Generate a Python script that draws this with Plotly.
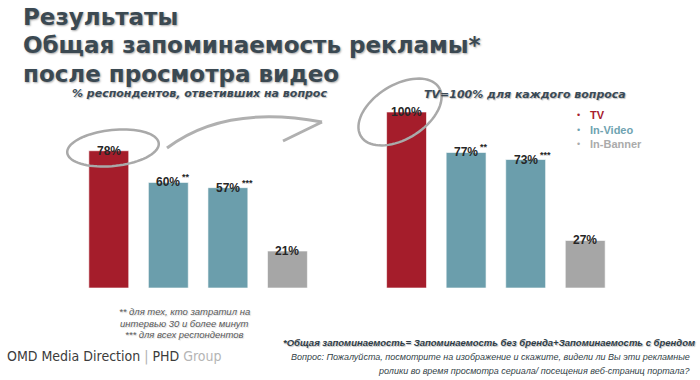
import numpy as np
import plotly.graph_objects as go

# ---------------- data ----------------
categories = ["TV", "In-Video", "In-Video", "In-Banner"]
left_values = [78, 60, 57, 21]      # % респондентов, ответивших на вопрос
right_values = [100, 77, 73, 27]    # TV = 100% для каждого вопроса
asterisks = ["", "**", "***", ""]
legend_items = ["TV", "In-Video", "In-Banner"]

bar_colors = {"TV": "#a51d2b", "In-Video": "#6b9eac", "In-Banner": "#a6a6a6"}
legend_colors = {"TV": "#a8202d", "In-Video": "#6fa3b1", "In-Banner": "#ababab"}

W, H = 700, 380
left_x = list(range(len(left_values)))
right_x = [i + len(left_values) + 1 for i in range(len(right_values))]


def px(x):
    return x / W


def py(y):
    return 1 - y / H


fig = go.Figure()
for xs, vals, nm in [(left_x, left_values, "all"), (right_x, right_values, "tv100")]:
    fig.add_trace(go.Bar(
        x=xs, y=vals, name=nm, width=0.67,
        marker=dict(color=[bar_colors[c] for c in categories],
                    line=dict(color="rgba(255,255,255,0.6)", width=1)),
        showlegend=False, hoverinfo="skip",
    ))

ann = []
label_font = dict(family="Liberation Sans, Arial, sans-serif", size=12, color="#262626")
for xs, vals in [(left_x, left_values), (right_x, right_values)]:
    for x, v, a in zip(xs, vals, asterisks):
        ann.append(dict(x=x, y=v, xref="x", yref="y", text=f"<b>{v}%</b>",
                        showarrow=False, xanchor="center", yanchor="middle",
                        font=label_font))
        if a:
            ann.append(dict(x=x, y=v, xref="x", yref="y", text=f"<b>{a}</b>",
                            showarrow=False, xanchor="left", yanchor="middle",
                            xshift=12, yshift=5,
                            font=dict(family="Liberation Sans, Arial", size=9, color="#262626")))

# titles
title_font = dict(family="DejaVu Sans", size=23, color="#3b4952",
                  shadow="1px 1px 2px rgba(0,0,0,0.35)")
for txt, yy in [("Результаты", 17), ("Общая запоминаемость рекламы*", 45), ("после просмотра видео", 74)]:
    ann.append(dict(x=px(21), y=py(yy), xref="paper", yref="paper", text=f"<b>{txt}</b>",
                    showarrow=False, xanchor="left", yanchor="middle", font=title_font))

sub_font = dict(family="DejaVu Sans", size=11, color="#3a4a56",
                shadow="1px 1px 1px rgba(0,0,0,0.25)")
ann.append(dict(x=px(199), y=py(93), xref="paper", yref="paper",
                text="<b><i>% респондентов, ответивших на вопрос</i></b>",
                showarrow=False, xanchor="center", yanchor="middle", font=sub_font))
ann.append(dict(x=px(525), y=py(94), xref="paper", yref="paper",
                text="<b><i>TV=100% для каждого вопроса</i></b>",
                showarrow=False, xanchor="center", yanchor="middle", font=sub_font))

# legend
for i, name in enumerate(legend_items):
    yy = 115 + i * 14.5
    ann.append(dict(x=px(575), y=py(yy), xref="paper", yref="paper", text="•",
                    showarrow=False, xanchor="left", yanchor="middle",
                    font=dict(family="Liberation Sans, Arial", size=9, color=legend_colors[name])))
    ann.append(dict(x=px(588), y=py(yy), xref="paper", yref="paper", text=f"<b>{name}</b>",
                    showarrow=False, xanchor="left", yanchor="middle",
                    font=dict(family="Liberation Sans, Arial", size=11, color=legend_colors[name])))

# footnotes
note_font = dict(family="Liberation Sans, Arial", size=9.5, color="#5a5a5a",
                 shadow="1px 1px 1px rgba(0,0,0,0.15)")
for txt, yy in [("** для тех, кто затратил на", 311), ("интервью 30 и более минут", 323),
                ("*** для всех респондентов", 334)]:
    ann.append(dict(x=px(184), y=py(yy), xref="paper", yref="paper", text=f"<i>{txt}</i>",
                    showarrow=False, xanchor="center", yanchor="middle", font=note_font))

ann.append(dict(x=px(697), y=py(342), xref="paper", yref="paper",
                text="<b><i>*Общая запоминаемость= Запоминаемость без бренда+Запоминаемость с брендом</i></b>",
                showarrow=False, xanchor="right", yanchor="middle",
                font=dict(family="Liberation Sans, Arial", size=9.5, color="#2f3d47",
                          shadow="1px 1px 1px rgba(0,0,0,0.25)")))
q_font = dict(family="Liberation Sans, Arial", size=9, color="#333f48")
ann.append(dict(x=px(692), y=py(357), xref="paper", yref="paper",
                text="<i>Вопрос: Пожалуйста, посмотрите на изображение и скажите, видели ли Вы эти рекламные</i>",
                showarrow=False, xanchor="right", yanchor="middle", font=q_font))
ann.append(dict(x=px(692), y=py(371), xref="paper", yref="paper",
                text="<i>ролики во время просмотра сериала/ посещения веб-страниц портала?</i>",
                showarrow=False, xanchor="right", yanchor="middle", font=q_font))

# logo
ann.append(dict(x=px(5), y=py(356), xref="paper", yref="paper",
                text="<span style='color:#3c3c3c'>OMD Media Direction</span>"
                     "<span style='color:#b0b0b0'> | </span>"
                     "<span style='color:#3c3c3c'>PHD</span>"
                     "<span style='color:#b5b5b5'> Group</span>",
                showarrow=False, xanchor="left", yanchor="middle",
                font=dict(family="DejaVu Sans Condensed", size=14)))


# decorative hand-drawn ellipses and arrow
def ellipse_path(cx, cy, a, b, angle_deg, start=0.0, sweep=2 * np.pi * 1.05):
    t = np.linspace(start, start + sweep, 80)
    th = np.deg2rad(angle_deg)
    xs = cx + a * np.cos(t) * np.cos(th) - b * np.sin(t) * np.sin(th)
    ys = cy + a * np.cos(t) * np.sin(th) + b * np.sin(t) * np.cos(th)
    return "M " + " L ".join(f"{px(x):.5f},{py(y):.5f}" for x, y in zip(xs, ys))


shapes = [
    dict(type="path", xref="paper", yref="paper", path=ellipse_path(113, 148, 46, 18, -6, 0.3),
         line=dict(color="#a9a9a9", width=2.5)),
    dict(type="path", xref="paper", yref="paper", path=ellipse_path(400, 112, 46, 27, -32, 0.2),
         line=dict(color="#a9a9a9", width=2.5)),
    dict(type="path", xref="paper", yref="paper",
         path=f"M {px(167)},{py(148)} Q {px(225)},{py(104)} {px(322)},{py(122)}",
         line=dict(color="#b0b0b0", width=3)),
    dict(type="path", xref="paper", yref="paper",
         path=f"M {px(322)},{py(122)} L {px(283)},{py(141)}",
         line=dict(color="#b0b0b0", width=3)),
]

x_lo, x_hi = -0.5, right_x[-1] + 0.5
fig.update_layout(
    width=W, height=H, margin=dict(l=0, r=0, t=0, b=0),
    paper_bgcolor="white", plot_bgcolor="white",
    xaxis=dict(domain=[79 / W, 615 / W], range=[x_lo, x_hi], visible=False),
    yaxis=dict(domain=[1 - 288 / H, 1 - 94.4 / H], range=[0, 110], visible=False),
    bargap=0.3, annotations=ann, shapes=shapes,
)
fig.update_traces(cliponaxis=False)

fig.write_html("out.html", config={"displayModeBar": False},
               post_script="document.body.style.margin='0px';document.body.style.overflow='hidden';")
